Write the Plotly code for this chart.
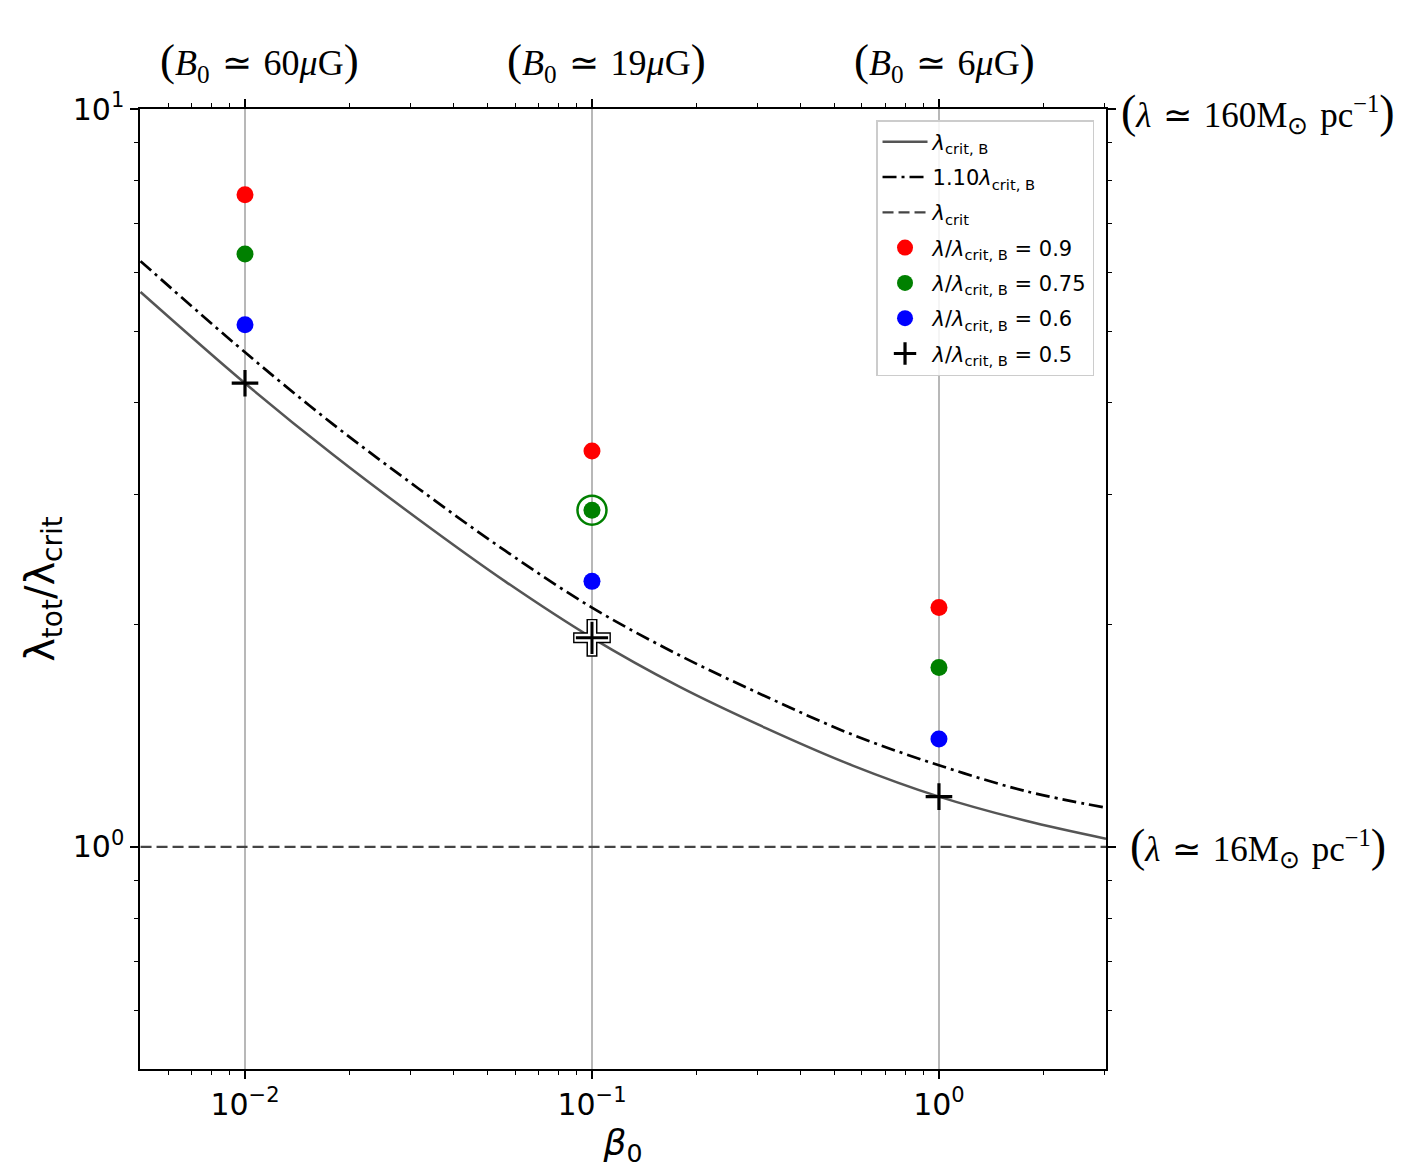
import plotly.graph_objects as go

beta_curve = [0.005, 0.01, 0.0178, 0.0316, 0.0562, 0.1, 0.178, 0.316, 0.562, 1.0, 1.78, 3.03]
crit_B = [5.65, 4.25, 3.41, 2.78, 2.29, 1.92, 1.65, 1.45, 1.29, 1.17, 1.085, 1.026]
crit_B_110 = [6.22, 4.68, 3.75, 3.06, 2.52, 2.11, 1.82, 1.60, 1.42, 1.29, 1.19, 1.13]
crit_x = [0.005, 3.03]
crit_y = [1.0, 1.0]

# simulation points
beta_sim = [0.01, 0.1, 1.0]
ratio_09 = [7.65, 3.44, 2.11]
ratio_075 = [6.36, 2.86, 1.75]
ratio_06 = [5.10, 2.29, 1.40]
ratio_05 = [4.25, 1.92, 1.17]

# highlighted runs
hl_green = ([0.1], [2.86])
hl_plus = ([0.1], [1.92])

x_ticks = [0.01, 0.1, 1]
x_ticktext = ["10<sup>−2</sup>", "10<sup>−1</sup>", "10<sup>0</sup>"]
y_ticks = [1, 10]
y_ticktext = ["10<sup>0</sup>", "10<sup>1</sup>"]
x_minor = [0.006, 0.007, 0.008, 0.009, 0.02, 0.03, 0.04, 0.05, 0.06, 0.07, 0.08, 0.09,
           0.2, 0.3, 0.4, 0.5, 0.6, 0.7, 0.8, 0.9, 2, 3]
y_minor = [0.6, 0.7, 0.8, 0.9, 2, 3, 4, 5, 6, 7, 8, 9]

B_labels = ["60", "19", "6"]
lam_labels = ["160", "16"]

sans = "DejaVu Sans"
serif = "Liberation Serif"
sp = "\u2004"


def paren(s, size):
    big = "<span style='font-size:%dpx'>%s</span>"
    return big % (size, "(") + s + big % (size, ")")


fig = go.Figure()

fig.add_trace(go.Scatter(x=beta_curve, y=crit_B, mode="lines", line_shape="spline",
                         line=dict(color="#555555", width=2.5),
                         name="<i>λ</i><sub>crit, B</sub>", legendgroup="a"))
fig.add_trace(go.Scatter(x=beta_curve, y=crit_B_110, mode="lines", line_shape="spline",
                         line=dict(color="black", width=2.7, dash="14px,5px,3px,5px"),
                         name="1.10<i>λ</i><sub>crit, B</sub>", legendgroup="b"))
fig.add_trace(go.Scatter(x=crit_x, y=crit_y, mode="lines",
                         line=dict(color="#444444", width=2.2, dash="11px,5px"),
                         name="<i>λ</i><sub>crit</sub>", legendgroup="c"))

dots = [(ratio_09, "#ff0000", "0.9"), (ratio_075, "#008000", "0.75"), (ratio_06, "#0000ff", "0.6")]
for vals, col, lab in dots:
    fig.add_trace(go.Scatter(x=beta_sim, y=vals, mode="markers",
                             marker=dict(color=col, size=17, line_width=0),
                             name="<i>λ</i>/<i>λ</i><sub>crit, B</sub> = " + lab, legendgroup=lab))

fig.add_trace(go.Scatter(x=beta_sim, y=ratio_05, mode="markers",
                         marker=dict(symbol="cross-thin", size=19, color="black",
                                     line=dict(color="black", width=3.2)),
                         name="<i>λ</i>/<i>λ</i><sub>crit, B</sub> = 0.5", legendgroup="0.5"))

# ring around the highlighted green run
fig.add_trace(go.Scatter(x=hl_green[0], y=hl_green[1], mode="markers", showlegend=False,
                         marker=dict(symbol="circle-open", size=29, color="#008000",
                                     line=dict(color="#008000", width=2.5))))
# outlined plus for the highlighted run
for sz, w, c in [(27, 11, "black"), (25, 8, "white"), (23, 3, "black")]:
    fig.add_trace(go.Scatter(x=hl_plus[0], y=hl_plus[1], mode="markers", showlegend=False,
                             marker=dict(symbol="cross-thin", size=sz, color=c, line=dict(color=c, width=w))))

for xv, b in zip([-2, -1, 0], B_labels):
    t = paren("<i>B</i><sub>0</sub>" + sp + "≃" + sp + b + "<i>μ</i>G", 45)
    fig.add_annotation(x=xv, xref="x", y=1, yref="paper", text=t, showarrow=False,
                       xanchor="left", yanchor="bottom", xshift=-87, yshift=19,
                       font=dict(family=serif, size=36, color="black"))
for yv, lv, s in zip([1, 0], lam_labels, [-3, 0]):
    t = paren("<i>λ</i>" + sp + "≃" + sp + lv + "M<sub>⊙</sub>" + sp + "pc<sup>−1</sup>", 46)
    fig.add_annotation(x=1.157, xref="paper", y=yv, yref="y", text=t,
                       showarrow=False, xanchor="center", yanchor="middle", yshift=s,
                       font=dict(family=serif, size=35, color="black"))

axis_common = dict(type="log", showline=True, linecolor="black", linewidth=1.5, mirror="allticks",
                   ticks="outside", ticklen=8, tickwidth=1.5, tickcolor="black", zeroline=False,
                   tickmode="array", tickfont=dict(family=sans, size=30, color="black"))

fig.update_xaxes(**axis_common, tickvals=x_ticks, ticktext=x_ticktext,
                 range=[-2.3026, 0.4814], showgrid=True, gridcolor="#b8b8b8", gridwidth=1.5,
                 minor=dict(ticks="outside", ticklen=4, tickwidth=1, tickcolor="black",
                            tickvals=x_minor, showgrid=False),
                 title=dict(text="<i>β</i><sub>0</sub>", font=dict(family=sans, size=36, color="black"),
                            standoff=0))
fig.update_yaxes(**axis_common, tickvals=y_ticks, ticktext=y_ticktext,
                 range=[-0.301, 1.0], showgrid=False,
                 minor=dict(ticks="outside", ticklen=4, tickwidth=1, tickcolor="black",
                            tickvals=y_minor, showgrid=False),
                 title=dict(text="λ<sub>tot</sub>/λ<sub>crit</sub>", font=dict(family=sans, size=40, color="black"),
                            standoff=6))

fig.update_layout(
    width=1426, height=1168,
    margin=dict(l=132, r=328, t=101, b=107, autoexpand=False),
    plot_bgcolor="white", paper_bgcolor="white",
    font=dict(family=sans, color="black"),
    legend=dict(x=0.9876, y=0.9885, xanchor="right", yanchor="top", tracegroupgap=5,
                bgcolor="rgba(255,255,255,0.85)", bordercolor="#cccccc", borderwidth=1.5,
                font=dict(family=sans, size=21, color="black"), itemwidth=45),
)

fig.write_html("out.html")
